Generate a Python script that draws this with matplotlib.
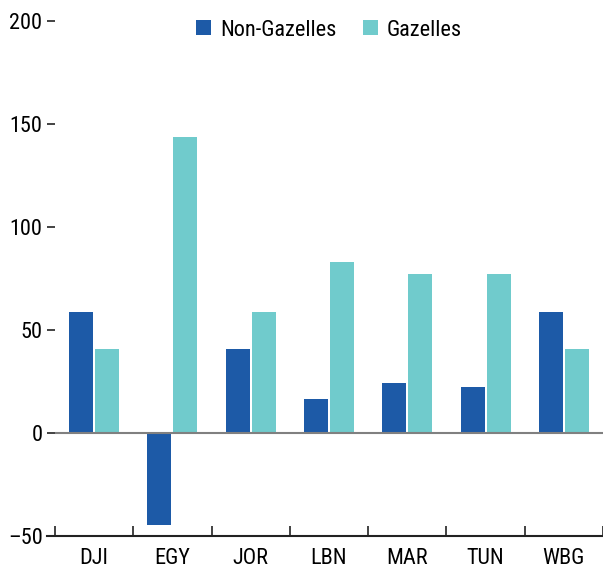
import matplotlib
matplotlib.use("Agg")
import matplotlib.pyplot as plt
import numpy as np
from matplotlib.ticker import FixedLocator
from matplotlib import font_manager as fm

def pick_font(names):
    for n in names:
        try:
            fm.findfont(fm.FontProperties(family=n), fallback_to_default=False)
            return n
        except Exception:
            pass
    return 'DejaVu Sans'

main_font = pick_font(['Roboto Condensed', 'Liberation Sans Narrow', 'Roboto'])
plt.rcParams['font.family'] = [main_font, 'DejaVu Sans']
fs = 16.0

categories = ["DJI", "EGY", "JOR", "LBN", "MAR", "TUN", "WBG"]
non_gazelles = [58.7, -44.7, 40.8, 16.5, 24.3, 22.3, 58.7]
gazelles = [40.8, 143.8, 58.7, 83.0, 77.2, 77.2, 40.8]
yticks = [-50, 0, 50, 100, 150, 200]

c_ng = "#1d5aa7"
c_g = "#70cbcc"

fig = plt.figure(figsize=(6.03, 5.72), dpi=100)
ax = fig.add_axes([55/603, 1-536/572, 1-55/603, (536-21)/572])

x = np.arange(len(categories))
w = 0.306
off = 0.166
ax.bar(x - off, non_gazelles, width=w, color=c_ng, label="Non-Gazelles", zorder=2)
ax.bar(x + off, gazelles, width=w, color=c_g, label="Gazelles", zorder=2)

ax.axhline(0, color="#808080", lw=1.5, zorder=3)

ax.set_xlim(-0.5, len(categories) - 0.5)
ax.set_ylim(-50, 200)
ax.set_yticks(yticks)
ax.set_yticklabels([("\u2013" + str(abs(v))) if v < 0 else str(v) for v in yticks])

ax.set_xticks(x)
ax.set_xticklabels(categories)
ax.xaxis.set_minor_locator(FixedLocator(np.arange(-0.5, len(categories), 1.0)))
ax.tick_params(axis='x', which='major', length=0, pad=9, labelsize=fs)
ax.tick_params(axis='x', which='minor', direction='in', length=7, width=1.2, color='#222222')
ax.tick_params(axis='y', which='major', length=6, width=1.2, pad=3, labelsize=fs, color='#222222')

for s in ['left', 'right', 'top']:
    ax.spines[s].set_visible(False)
ax.spines['bottom'].set_color('#222222')
ax.spines['bottom'].set_linewidth(1.5)
ax.spines['bottom'].set_bounds(-0.5 - 8/78.5, len(categories) - 0.5)

fig.legend(loc='center', bbox_to_anchor=(329/603, 1-30/572), ncol=2, frameon=False,
           fontsize=fs, handlelength=0.68, handleheight=0.68, handletextpad=0.38,
           columnspacing=1.2)

fig.savefig("out.png", dpi=100)
